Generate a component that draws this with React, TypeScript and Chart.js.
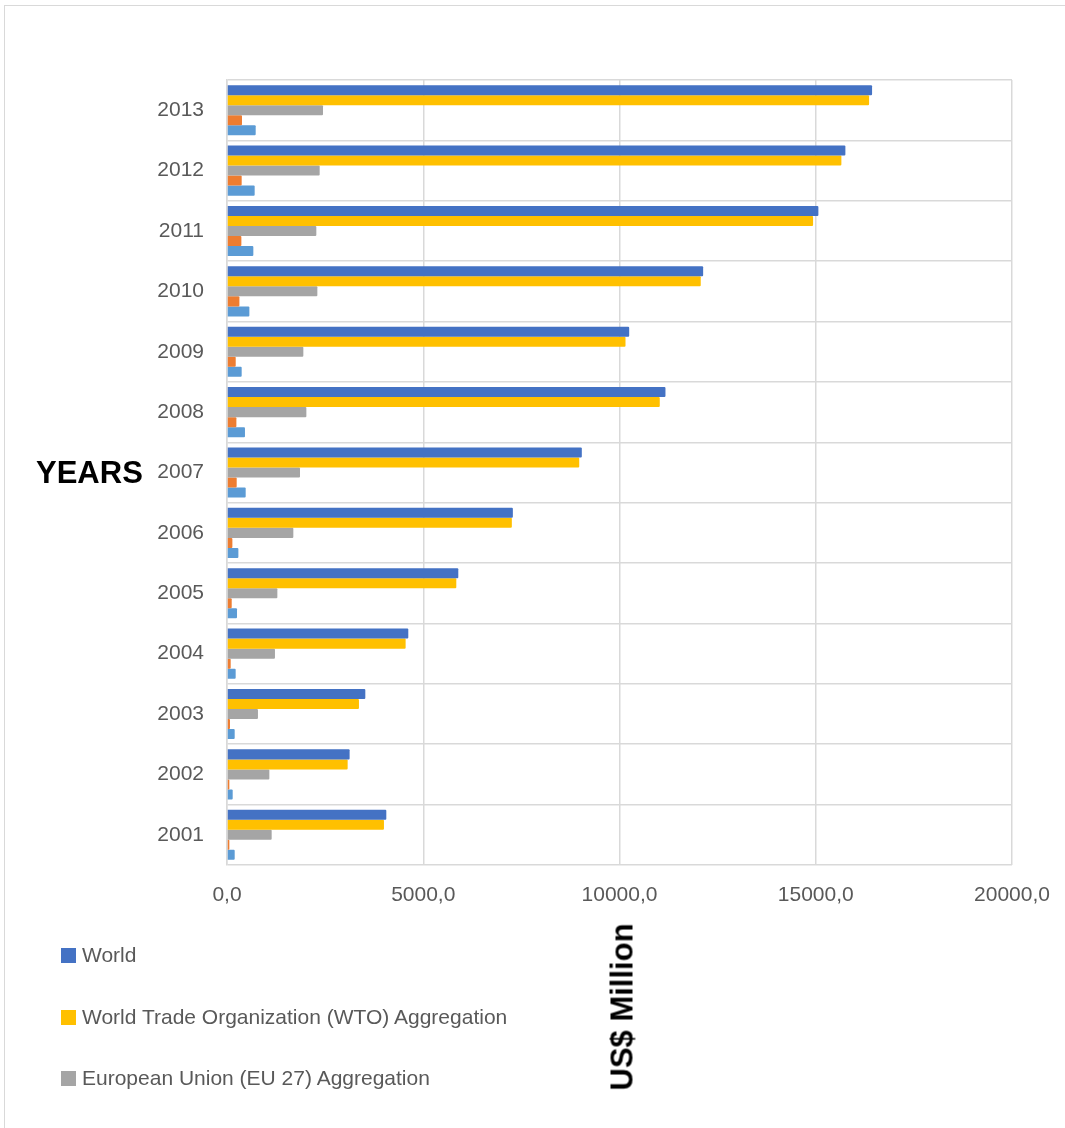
import React, { useEffect, useRef } from 'react';
import { Chart, registerables } from 'chart.js';

Chart.register(...registerables);

// ---- Data ----
const years = ['2001', '2002', '2003', '2004', '2005', '2006', '2007', '2008', '2009', '2010', '2011', '2012', '2013'];
const worldValues = [4059, 3124, 3524, 4619, 5893, 7283, 9040, 11171, 10247, 12131, 15067, 15755, 16435];
const wtoValues = [3999, 3074, 3362, 4551, 5842, 7257, 8974, 11026, 10153, 12070, 14932, 15653, 16359];
const euValues = [1138, 1079, 789, 1222, 1283, 1690, 1860, 2022, 1945, 2302, 2276, 2361, 2446];
const series4Values = [60, 60, 76, 94, 120, 137, 247, 239, 222, 316, 366, 374, 382];
const series5Values = [196, 145, 196, 221, 255, 290, 476, 458, 374, 570, 671, 705, 731];

const seriesNames = [
  'World',
  'World Trade Organization (WTO) Aggregation',
  'European Union (EU 27) Aggregation',
  'Series 4',
  'Series 5',
];
const seriesColors = ['#4472C4', '#FFC000', '#A5A5A5', '#ED7D31', '#5B9BD5'];
const legendCount = 3;

const xTicksMin = 0;
const xTicksMax = 20000;
const xTickStep = 5000;

const FONT = '"Liberation Sans", Arial, sans-serif';
const TEXT_COLOR = '#595959';
const GRID_COLOR = '#D9D9D9';

export default function App() {
  const canvasRef = useRef<HTMLCanvasElement>(null);

  useEffect(() => {
    const prevOverflow = document.body.style.overflow;
    document.body.style.overflow = 'hidden';
    const values = [worldValues, wtoValues, euValues, series4Values, series5Values];
    const chart = new Chart(canvasRef.current as HTMLCanvasElement, {
      type: 'bar',
      data: {
        labels: years,
        datasets: values.map((v, i) => ({
          label: seriesNames[i],
          data: v,
          backgroundColor: seriesColors[i],
          borderWidth: 0,
          borderRadius: 1,
          categoryPercentage: 0.83,
          barPercentage: 1.0,
        })),
      },
      options: {
        indexAxis: 'y',
        animation: false,
        responsive: false,
        maintainAspectRatio: false,
        layout: { padding: { left: 0, top: 80, right: 53, bottom: 213 } },
        plugins: {
          legend: { display: false },
          tooltip: { enabled: false },
        },
        scales: {
          x: {
            min: xTicksMin,
            max: xTicksMax,
            ticks: {
              stepSize: xTickStep,
              color: TEXT_COLOR,
              font: { family: FONT, size: 21 },
              padding: 18,
              callback: (v: any) => Number(v).toFixed(1).replace('.', ','),
            },
            grid: { color: GRID_COLOR, lineWidth: 1.5, drawTicks: false },
            border: { display: false },
            afterFit: (s: any) => {
              s.height = 50;
              s.paddingLeft = 0;
              s.paddingRight = 0;
            },
          },
          y: {
            reverse: true,
            ticks: {
              color: TEXT_COLOR,
              font: { family: FONT, size: 21 },
              padding: 23,
            },
            grid: { color: GRID_COLOR, lineWidth: 1.5, drawTicks: false, offset: true },
            border: { color: GRID_COLOR, width: 1.5 },
            afterFit: (s: any) => {
              s.width = 227;
              s.paddingTop = 0;
              s.paddingBottom = 0;
            },
          },
        },
      },
    });
    return () => {
      chart.destroy();
      document.body.style.overflow = prevOverflow;
    };
  }, []);

  const legendRows = [955, 1017, 1078];

  return (
    <div
      style={{
        position: 'absolute',
        left: 0,
        top: 0,
        width: 1065,
        height: 1128,
        overflow: 'hidden',
        background: '#ffffff',
      }}
    >
      <div
        style={{
          position: 'absolute',
          left: 4,
          top: 5,
          width: 1100,
          height: 1200,
          borderTop: `1.5px solid ${GRID_COLOR}`,
          borderLeft: `1.5px solid ${GRID_COLOR}`,
          boxSizing: 'border-box',
        }}
      />
      <canvas
        ref={canvasRef}
        width={1065}
        height={1128}
        style={{ position: 'absolute', left: 0, top: 0, width: 1065, height: 1128, display: 'block' }}
      />
      <div
        style={{
          position: 'absolute',
          left: 36,
          top: 457,
          fontFamily: FONT,
          fontWeight: 'bold',
          fontSize: 31,
          lineHeight: 1,
          color: '#000000',
          whiteSpace: 'nowrap',
        }}
      >
        YEARS
      </div>
      <div
        style={{
          position: 'absolute',
          left: 622,
          top: 1007,
          transform: 'translate(-50%, -50%) rotate(-90deg)',
          fontFamily: FONT,
          fontWeight: 'bold',
          fontSize: 31,
          lineHeight: 1,
          color: '#000000',
          whiteSpace: 'nowrap',
        }}
      >
        US$ Million
      </div>
      {seriesNames.slice(0, legendCount).map((name, i) => (
        <div
          key={name}
          style={{
            position: 'absolute',
            left: 61,
            top: legendRows[i] - 12,
            height: 24,
            display: 'flex',
            alignItems: 'center',
            fontFamily: FONT,
            fontSize: 21,
            color: TEXT_COLOR,
            whiteSpace: 'nowrap',
          }}
        >
          <span
            style={{
              display: 'inline-block',
              width: 15,
              height: 15,
              background: seriesColors[i],
              marginRight: 6,
            }}
          />
          <span>{name}</span>
        </div>
      ))}
    </div>
  );
}
